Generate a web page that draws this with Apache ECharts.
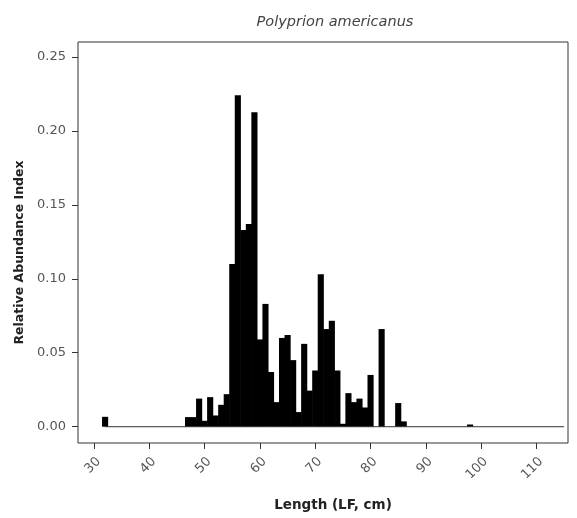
<!DOCTYPE html>
<html>
<head>
<meta charset="utf-8">
<script src="https://cdn.jsdelivr.net/npm/echarts@6/dist/echarts.min.js"></script>
<style>
html,body{margin:0;padding:0;background:#fff;}
#chart{width:577px;height:518px;}
</style>
</head>
<body>
<div id="chart"></div>
<script>
// Data
const lengths = [32, 47, 48, 49, 50, 51, 52, 53, 54, 55, 56, 57, 58, 59, 60, 61, 62, 63, 64, 65, 66, 67, 68, 69, 70, 71, 72, 73, 74, 75, 76, 77, 78, 79, 80, 81, 82, 83, 84, 85, 86, 98];
const abundance = [0.0067, 0.0065, 0.0065, 0.019, 0.004, 0.020, 0.0076, 0.0148, 0.022, 0.110, 0.224, 0.133, 0.137, 0.2125, 0.059, 0.083, 0.037, 0.0166, 0.060, 0.062, 0.045, 0.0099, 0.056, 0.0244, 0.038, 0.103, 0.066, 0.0716, 0.038, 0.002, 0.0227, 0.0166, 0.019, 0.013, 0.035, 0, 0.066, 0, 0, 0.016, 0.0036, 0.0015];
const binRange = [32, 115];
const xTicks = [30, 40, 50, 60, 70, 80, 90, 100, 110];
const yTicks = [0, 0.05, 0.10, 0.15, 0.20, 0.25];
const titleText = 'Polyprion americanus';
const xTitle = 'Length (LF, cm)';
const yTitle = 'Relative Abundance Index';

const xMin = 27.1, xMax = 115.7, yMin = -0.011, yMax = 0.26;
const gridLeft = 78, gridRight = 9, gridTop = 42, gridBottom = 75;
const W = 577;
const barW = (W - gridLeft - gridRight) / (xMax - xMin);
const FONT = 'DejaVu Sans, Verdana, sans-serif';

const chart = echarts.init(document.getElementById('chart'), null, {renderer: 'canvas'});
chart.setOption({
  animation: false,
  backgroundColor: '#fff',
  title: {
    text: titleText,
    left: 330, top: 10, textAlign: 'center',
    textStyle: {fontFamily: FONT, fontStyle: 'italic', fontWeight: 'normal', fontSize: 14.5, color: '#444'}
  },
  grid: {left: gridLeft, right: gridRight, top: gridTop, bottom: gridBottom, show: true, borderColor: '#333', borderWidth: 1, backgroundColor: '#fff'},
  xAxis: {
    type: 'value', min: xMin, max: xMax,
    name: xTitle, nameLocation: 'middle', nameGap: 55,
    nameTextStyle: {fontFamily: FONT, fontWeight: 'bold', fontSize: 13.5, color: '#222', padding: [0, 0, 0, 20]},
    axisLine: {show: false, onZero: false},
    splitLine: {show: false},
    axisTick: {show: true, length: 6, lineStyle: {color: '#333'}, customValues: xTicks},
    axisLabel: {customValues: xTicks, rotate: 45, margin: 12, verticalAlign: 'top', fontFamily: FONT, fontSize: 13, color: '#555'}
  },
  yAxis: {
    type: 'value', min: yMin, max: yMax,
    name: yTitle, nameLocation: 'middle', nameGap: 52,
    nameTextStyle: {fontFamily: FONT, fontWeight: 'bold', fontSize: 12.5, color: '#222', padding: [0, 20, 0, 0]},
    axisLine: {show: false, onZero: false},
    splitLine: {show: false},
    axisTick: {show: true, length: 6, lineStyle: {color: '#333'}, customValues: yTicks},
    axisLabel: {customValues: yTicks, margin: 12, formatter: v => v.toFixed(2), fontFamily: FONT, fontSize: 13, color: '#555'}
  },
  series: [
    {
      type: 'line', symbol: 'none', silent: true,
      data: binRange.map(l => [l, 0]),
      lineStyle: {color: '#333', width: 1}
    },
    {
      type: 'bar', barWidth: barW + 0.6, silent: true,
      data: lengths.map((l, i) => [l, abundance[i]]),
      itemStyle: {color: '#000'}
    }
  ]
});
</script>
</body>
</html>
